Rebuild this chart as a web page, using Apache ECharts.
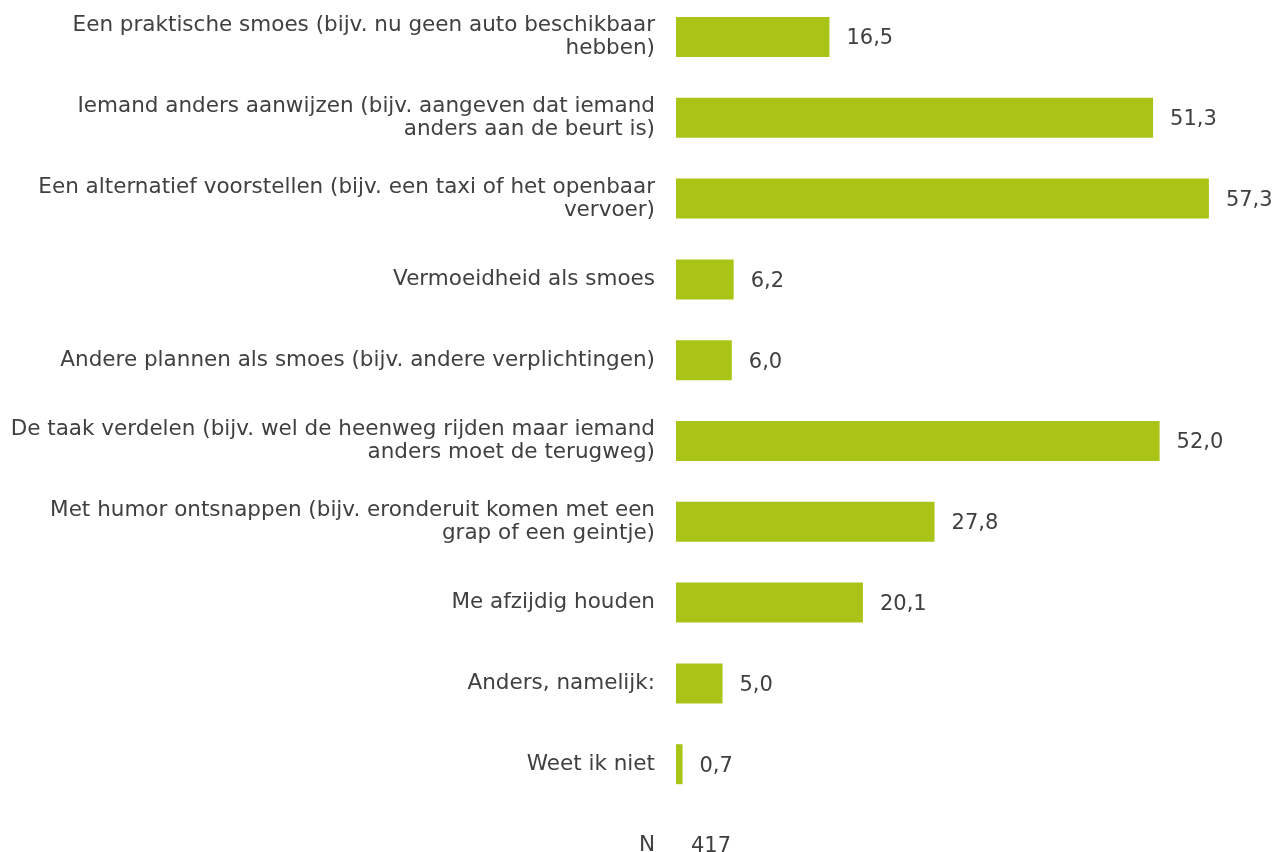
<!DOCTYPE html>
<html>
<head>
<meta charset="utf-8">
<script src="https://cdn.jsdelivr.net/npm/echarts@6/dist/echarts.min.js"></script>
<style>
  html, body { margin: 0; padding: 0; background: #fff; }
  #chart { width: 1275px; height: 852px; }
</style>
</head>
<body>
<div id="chart"></div>
<script>
// categories top to bottom, last row is the sample size
const categories = [
  'Een praktische smoes (bijv. nu geen auto beschikbaar\nhebben)',
  'Iemand anders aanwijzen (bijv. aangeven dat iemand\nanders aan de beurt is)',
  'Een alternatief voorstellen (bijv. een taxi of het openbaar\nvervoer)',
  'Vermoeidheid als smoes',
  'Andere plannen als smoes (bijv. andere verplichtingen)',
  'De taak verdelen (bijv. wel de heenweg rijden maar iemand\nanders moet de terugweg)',
  'Met humor ontsnappen (bijv. eronderuit komen met een\ngrap of een geintje)',
  'Me afzijdig houden',
  'Anders, namelijk:',
  'Weet ik niet'
];
const percentages = [16.5, 51.3, 57.3, 6.2, 6.0, 52.0, 27.8, 20.1, 5.0, 0.7];
const nLabel = 'N';
const nValue = 417;

const myChart = echarts.init(document.getElementById('chart'));

let yData = categories.concat([nLabel]);
let barData = percentages.map(v => ({ value: v }));
barData.push({
  value: 0,
  itemStyle: { color: 'rgba(0,0,0,0)' },
  label: { distance: 15 }
});

let option = {
  animation: false,
  textStyle: { fontFamily: 'DejaVu Sans' },
  grid: {
    left: 676, top: 37, right: 3.8, bottom: 7,
    containLabel: false, outerBoundsMode: 'none'
  },
  xAxis: {
    type: 'value', min: 0, max: 64, show: false
  },
  yAxis: {
    type: 'category',
    inverse: true,
    boundaryGap: false,
    data: yData,
    axisLine: { show: false },
    axisTick: { show: false },
    axisLabel: {
      color: '#404040',
      fontSize: 21.5,
      lineHeight: 23,
      margin: 21,
      padding: [4, 0, 0, 0],
      align: 'right'
    }
  },
  series: [{
    type: 'bar',
    data: barData,
    barWidth: 40,
    itemStyle: { color: '#A9C416' },
    label: {
      show: true,
      position: 'right',
      distance: 17,
      offset: [0, 2],
      color: '#404040',
      fontSize: 21,
      formatter: p => p.dataIndex < percentages.length ? p.value.toFixed(1).replace('.', ',') : String(nValue)
    }
  }]
};
myChart.setOption(option);
</script>
</body>
</html>
